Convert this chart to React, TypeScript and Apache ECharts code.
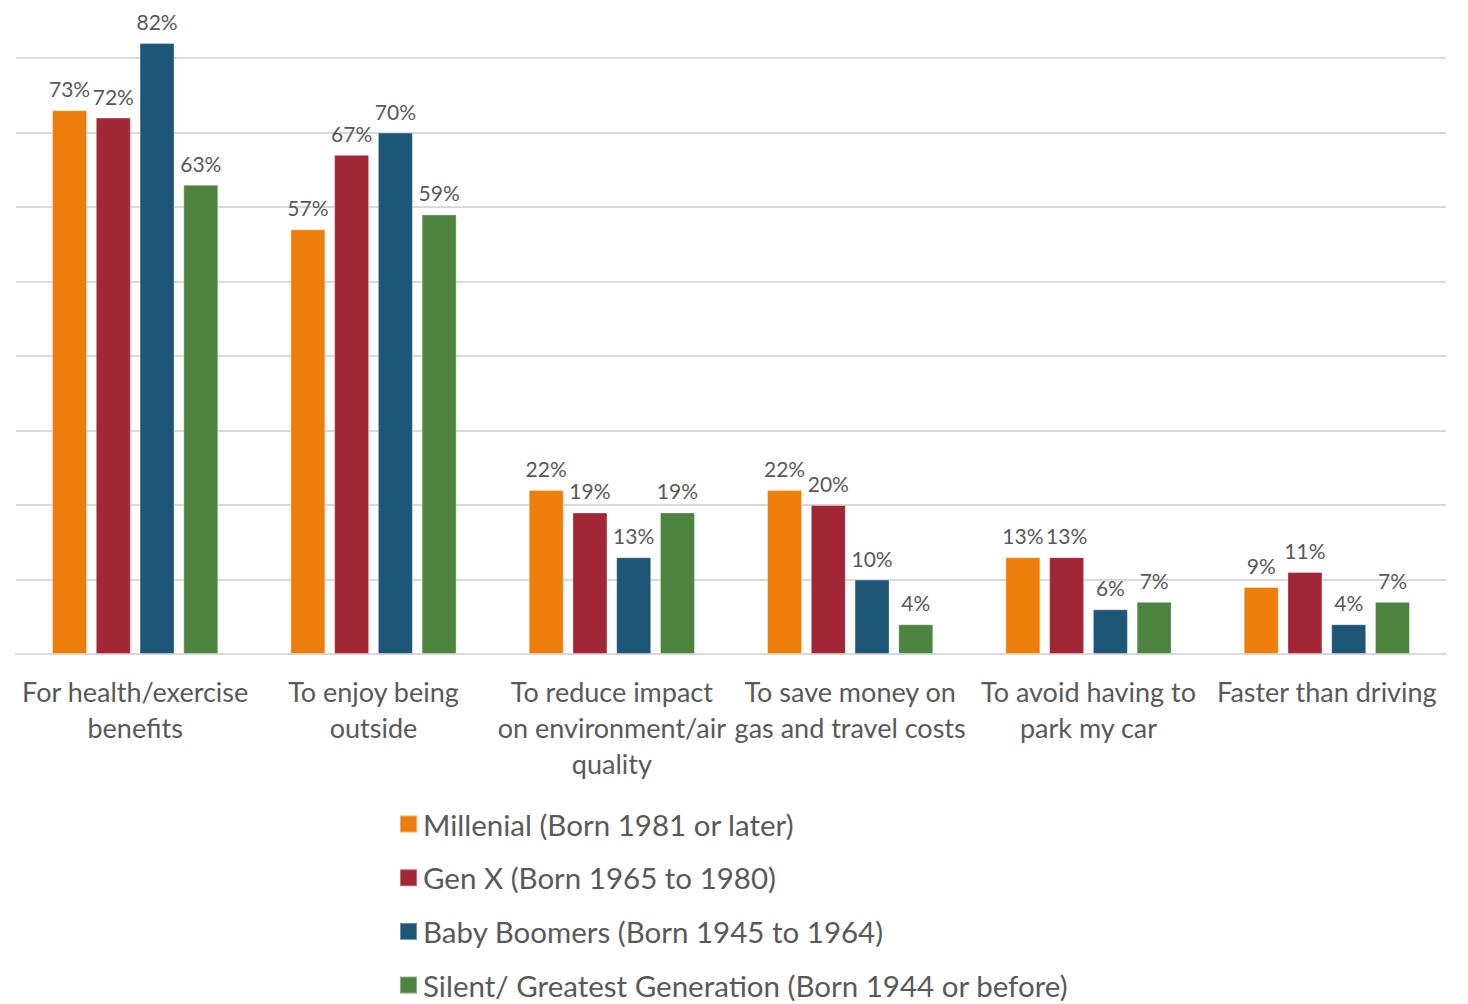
import React, { useEffect, useRef } from "react";
import * as echarts from "echarts";

const categories = [
  "For health/exercise\nbenefits",
  "To enjoy being\noutside",
  "To reduce impact\non environment/air\nquality",
  "To save money on\ngas and travel costs",
  "To avoid having to\npark my car",
  "Faster than driving",
];
const seriesNames = [
  "Millenial (Born 1981 or later)",
  "Gen X (Born 1965 to 1980)",
  "Baby Boomers (Born 1945 to 1964)",
  "Silent/ Greatest Generation (Born 1944 or before)",
];
const millenial = [73, 57, 22, 22, 13, 9];
const genX = [72, 67, 19, 20, 13, 11];
const boomers = [82, 70, 13, 10, 6, 4];
const silent = [63, 59, 19, 4, 7, 7];
const colors = ["#EE7E0B", "#A12737", "#1E5677", "#4D8540"];

const FONT = "Lato, 'Open Sans', sans-serif";

export default function App() {
  const ref = useRef<HTMLDivElement>(null);
  useEffect(() => {
    const chart = echarts.init(ref.current!, null, { renderer: "svg" });
    const data = [millenial, genX, boomers, silent];
    chart.setOption({
      animation: false,
      color: colors,
      textStyle: { fontFamily: FONT },
      grid: { left: 16, right: 22, top: 58, bottom: 350, containLabel: false },
      legend: seriesNames.map((name, i) => ({
        orient: "vertical",
        left: 399,
        top: 806 + 53.7 * i,
        padding: 0,
        icon: "rect",
        itemWidth: 17,
        itemHeight: 17,
        itemGap: 0,
        textStyle: { fontSize: 29.5, color: "#595959", fontFamily: FONT, lineHeight: 36, padding: [0, 0, 0, 1] },
        data: [name],
      })),
      xAxis: {
        type: "category",
        data: categories,
        axisLine: { lineStyle: { color: "#D9D9D9", width: 2 } },
        axisTick: { show: false },
        axisLabel: {
          interval: 0,
          margin: 19,
          fontSize: 27,
          lineHeight: 36,
          color: "#595959",
          fontFamily: FONT,
        },
      },
      yAxis: {
        type: "value",
        min: 0,
        max: 80,
        interval: 10,
        axisLabel: { show: false },
        axisLine: { show: false },
        axisTick: { show: false },
        splitLine: { lineStyle: { color: "#D9D9D9", width: 2 } },
      },
      series: seriesNames.map((name, i) => ({
        name,
        type: "bar",
        data: data[i],
        barWidth: 35,
        barGap: "25%",
        clip: false,
        itemStyle: { color: colors[i], borderColor: "rgba(255,255,255,0.35)", borderWidth: 1 },
        label: {
          show: true,
          position: "top",
          distance: 11,
          formatter: "{c}%",
          fontSize: 21,
          color: "#595959",
          fontFamily: FONT,
        },
      })),
    });
    return () => chart.dispose();
  }, []);
  return (
    <div
      ref={ref}
      style={{ position: "fixed", left: 0, top: 0, width: 1468, height: 1004, background: "#fff" }}
    />
  );
}
